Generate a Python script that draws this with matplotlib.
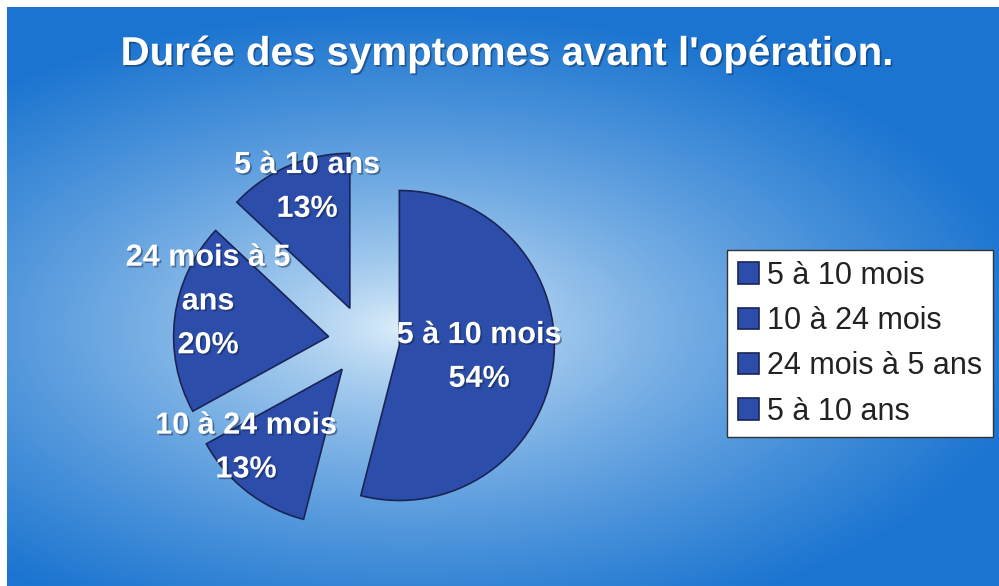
import numpy as np
import matplotlib
matplotlib.use('Agg')
import matplotlib.pyplot as plt
import matplotlib.patheffects as pe
from matplotlib.colors import to_rgb

plt.rcParams['font.family'] = ['Liberation Sans', 'DejaVu Sans']

# data
categories = ['5 à 10 mois', '10 à 24 mois', '24 mois à 5 ans', '5 à 10 ans']
slice_texts = ['5 à 10 mois', '10 à 24 mois', '24 mois à 5\nans', '5 à 10 ans']
values = [54, 13, 20, 13]
title = "Durée des symptomes avant l'opération."

slice_color = '#2c4daa'
edge_color = '#1a2455'

fig = plt.figure(figsize=(9.99, 5.86), dpi=100)
fig.patch.set_facecolor('white')

# background: elliptical gradient, light in the middle
bg = fig.add_axes([7 / 999, 0, 1 - 7 / 999, 1 - 7 / 586])
bg.set_axis_off()
h, w = 579, 992
yy, xx = np.mgrid[0:h, 0:w]
t = np.sqrt(((xx - 400) / 640) ** 2 + ((yy - 320) / 320) ** 2)
t = np.clip(t, 0, 1) ** 0.7
c_in = np.array(to_rgb('#e6f4fc'))
c_out = np.array(to_rgb('#1a74d0'))
img = c_in[None, None, :] * (1 - t[..., None]) + c_out[None, None, :] * t[..., None]
bg.imshow(img, aspect='auto', extent=(0, 1, 0, 1))

# pie
ax = fig.add_axes([0.1316, 0.0213, 0.4655, 0.7935])
ax.set_aspect('equal')
wedges, _ = ax.pie(values, startangle=90, counterclock=False, radius=1,
                   explode=[0.23] * len(values),
                   colors=[slice_color] * len(values),
                   wedgeprops=dict(edgecolor=edge_color, linewidth=1.2))
ax.set_xlim(-1.5, 1.5)
ax.set_ylim(-1.5, 1.5)
ax.set_axis_off()

shadow = [pe.withSimplePatchShadow(offset=(1.2, -1.2), shadow_rgbFace='#102040', alpha=0.45)]

label_dist = [0.52, 0.80, 0.81, 0.83]
label_nudge = [-1, -13, -9, -4]
for wdg, txt, v, d, nd in zip(wedges, slice_texts, values, label_dist, label_nudge):
    ang = np.deg2rad((wdg.theta1 + wdg.theta2) / 2 + nd)
    cx, cy = wdg.center
    ax.text(cx + d * np.cos(ang), cy + d * np.sin(ang), f'{txt}\n{v}%',
            ha='center', va='center', multialignment='center',
            color='white', fontsize=22, fontweight='bold', linespacing=1.6,
            path_effects=shadow)

fig.text(0.507, 1 - 54 / 586, title, ha='center', va='center', color='white',
         fontsize=29, fontweight='bold', path_effects=shadow)

leg = fig.legend(wedges, categories, loc='upper left',
                 bbox_to_anchor=(727 / 999, 1 - 250 / 586),
                 fontsize=22, frameon=True, fancybox=False, framealpha=1,
                 handlelength=0.7, handleheight=0.7, handletextpad=0.25,
                 labelspacing=0.5, borderpad=0.35, borderaxespad=0)
leg.get_frame().set_edgecolor('#333333')
leg.get_frame().set_linewidth(1.0)
leg.get_frame().set_facecolor('white')
for txt in leg.get_texts():
    txt.set_color('#222222')

fig.savefig('out.png', dpi=100)
